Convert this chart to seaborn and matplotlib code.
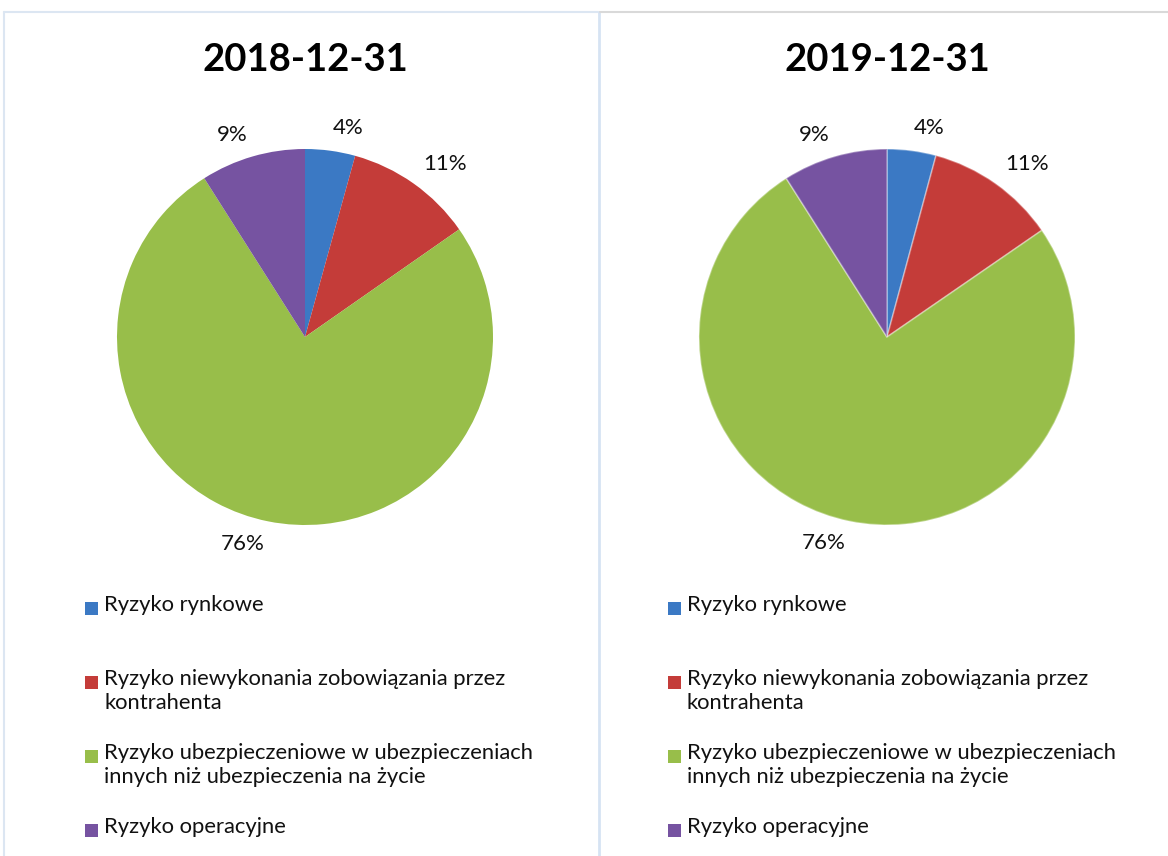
import matplotlib
matplotlib.use("Agg")
import numpy as np
import matplotlib.pyplot as plt
from matplotlib.patches import Rectangle
from matplotlib.lines import Line2D
import seaborn as sns

categories = [
    "Ryzyko rynkowe",
    "Ryzyko niewykonania zobowiązania przez\nkontrahenta",
    "Ryzyko ubezpieczeniowe w ubezpieczeniach\ninnych niż ubezpieczenia na życie",
    "Ryzyko operacyjne",
]
dates = ["2018-12-31", "2019-12-31"]
shares_2018 = [4.3, 11.0, 75.7, 9.0]
shares_2019 = [4.2, 11.2, 75.6, 9.0]
colors = ["#3b79c4", "#c43c39", "#98be4a", "#7653a1"]

sns.set_theme(style="white")
plt.rcParams["font.family"] = ["Lato", "DejaVu Sans"]

W, H = 1168, 856
fig = plt.figure(figsize=(W / 100, H / 100), dpi=100)
fig.patch.set_facecolor("white")

R = 188
centers = [(305, 337), (887, 337)]
legend_x = [85, 668]

for i, (shares, date) in enumerate(zip([shares_2018, shares_2019], dates)):
    cx, cy = centers[i]
    ax = fig.add_axes([(cx - R) / W, 1 - (cy + R) / H, 2 * R / W, 2 * R / H])
    wedges, texts, autotexts = ax.pie(
        shares, colors=sns.color_palette(colors), startangle=90, counterclock=False,
        autopct="%.0f%%", pctdistance=1.1, radius=1,
        wedgeprops=dict(edgecolor=(1, 1, 1, 0.35) if i else "none", linewidth=1.2),
        textprops=dict(fontsize=16, color="#111111"),
    )
    # outside labels anchored by their inner edge, like office charts
    for w, t in zip(wedges, autotexts):
        ang = np.deg2rad((w.theta1 + w.theta2) / 2)
        c, s = np.cos(ang), np.sin(ang)
        t.set_position((1.09 * c, 1.09 * s + 0.03 * np.sign(s)))
        t.set_ha("left" if c > 0 else "right")
        t.set_va("center")
    ax.set_xlim(-1, 1)
    ax.set_ylim(-1, 1)
    ax.set_aspect("equal")
    ax.axis("off")

    fig.text(cx / W, 1 - 60 / H, date, ha="center", va="center",
             fontsize=27.5, fontweight="bold", color="black")

    # legend drawn by hand so the marker sits on the first line of wrapped labels
    lx = legend_x[i]
    for k, (lab, col) in enumerate(zip(categories, colors)):
        y = 608 + k * 74
        fig.add_artist(Rectangle(((lx) / W, 1 - (y + 7) / H), 13 / W, 13 / H,
                                 transform=fig.transFigure, facecolor=col,
                                 edgecolor="none"))
        fig.text((lx + 19) / W, 1 - (y - 13) / H, lab, ha="left", va="top",
                 fontsize=15.8, color="#111111", linespacing=1.25)

# panel frames
fig.add_artist(Line2D([4 / W, 598 / W], [1 - 12 / H, 1 - 12 / H], color="#dce6f2", lw=1.5))
fig.add_artist(Line2D([4 / W, 4 / W], [1 - 12 / H, 0], color="#dce6f2", lw=1.5))
fig.add_artist(Line2D([599 / W, 599 / W], [1 - 12 / H, 0], color="#d6e3f3", lw=2))
fig.add_artist(Line2D([600 / W, 1168 / W], [1 - 12 / H, 1 - 12 / H], color="#d9d9d9", lw=1.5))

fig.savefig("out.png", dpi=100)
